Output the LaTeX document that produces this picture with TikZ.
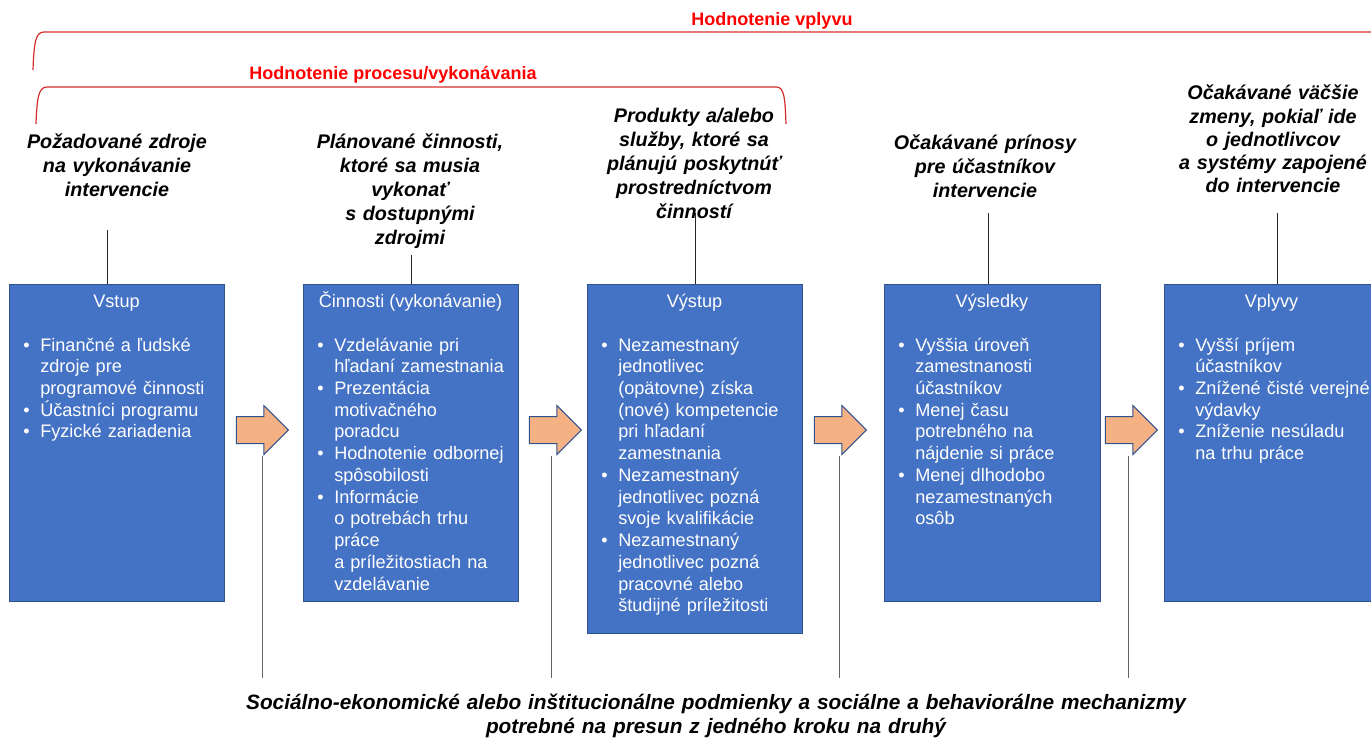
\documentclass[tikz,border=0pt]{standalone}
\usepackage{fontspec}
\setmainfont{Liberation Sans}
\usepackage{tikz}
\usetikzlibrary{shapes.arrows, positioning}
\definecolor{modra}{HTML}{4472C4}
\definecolor{okraj}{HTML}{2F528F}
\definecolor{oranz}{HTML}{F4B183}
\definecolor{cervena}{HTML}{FF0000}
\definecolor{zatvorka}{HTML}{D42C2C}
\tikzstyle{blok} = [rectangle, draw=okraj, fill=modra, line width=0.75pt, minimum width=161.25pt, minimum height=237.75pt, anchor=north west, inner sep=0pt]
\tikzstyle{nadpis} = [text=white, font=\fontsize{13.6}{16.3}\selectfont, anchor=base, inner sep=0pt]
\tikzstyle{zoznam} = [text=white, font=\fontsize{13.6}{16.3}\selectfont, text width=190pt, anchor=base west, inner sep=0pt]
\tikzstyle{popis} = [font=\fontsize{14.8}{18}\selectfont\bfseries\itshape, text width=157pt, align=center, anchor=base, inner sep=0pt]
\tikzstyle{sipka} = [single arrow, draw=okraj, fill=oranz, line width=0.75pt, minimum height=39pt, single arrow head extend=8.25pt, inner xsep=0pt, inner ysep=9.75pt, anchor=tip]
\tikzstyle{hodnotenie} = [text=cervena, font=\fontsize{13.5}{16}\selectfont\bfseries, anchor=base, inner sep=0pt]
\tikzstyle{zatv} = [draw=zatvorka, line width=0.9pt]
\tikzstyle{linka} = [line width=0.75pt, black!85]
\tikzstyle{siva} = [line width=0.75pt, black!60]

\newcommand{\bod}[1]{\hangindent=12.75pt\hangafter=1\makebox[12.75pt][l]{\textbullet}#1\par}

\begin{document}
\begin{tikzpicture}[x=0.75pt,y=-0.75pt]
\clip (0,0) rectangle (1371,738);

% hodnotenie
\node[hodnotenie] (vplyv) at (772,26) {Hodnotenie vplyvu};
\node[hodnotenie] (proces) at (393,80) {Hodnotenie procesu/vykonávania};
\draw[zatv] (33,70) .. controls (34,41) and (36,32) .. (44,32) -- (1375,32);
\draw[zatv] (36,124) .. controls (37,96) and (39,87) .. (47,87) -- (776,87) .. controls (784,87) and (785,96) .. (786,124);

% bloky
\node[blok] (vstup) at (9,284) {};
\node[blok] (cinnosti) at (303,284) {};
\node[blok, minimum height=261.75pt] (vystup) at (587,284) {};
\node[blok, minimum width=162pt] (vysledky) at (884,284) {};
\node[blok] (vplyvy) at (1164,284) {};

\node[nadpis] (vstup-n) at (116.5,307) {Vstup};
\node[nadpis] (cinnosti-n) at (410.5,307) {Činnosti (vykonávanie)};
\node[nadpis] (vystup-n) at (694.5,307) {Výstup};
\node[nadpis] (vysledky-n) at (992,307) {Výsledky};
\node[nadpis] (vplyvy-n) at (1271.5,307) {Vplyvy};

\node[zoznam] (vstup-z) at (23,351) {%
\bod{Finančné a ľudské\newline zdroje pre\newline programové činnosti}
\bod{Účastníci programu}
\bod{Fyzické zariadenia}};
\node[zoznam] (cinnosti-z) at (317,351) {%
\bod{Vzdelávanie pri\newline hľadaní zamestnania}
\bod{Prezentácia\newline motivačného\newline poradcu}
\bod{Hodnotenie odbornej\newline spôsobilosti}
\bod{Informácie\newline o potrebách trhu\newline práce\newline a príležitostiach na\newline vzdelávanie}};
\node[zoznam] (vystup-z) at (601,351) {%
\bod{Nezamestnaný\newline jednotlivec\newline (opätovne) získa\newline (nové) kompetencie\newline pri hľadaní\newline zamestnania}
\bod{Nezamestnaný\newline jednotlivec pozná\newline svoje kvalifikácie}
\bod{Nezamestnaný\newline jednotlivec pozná\newline pracovné alebo\newline študijné príležitosti}};
\node[zoznam] (vysledky-z) at (898,351) {%
\bod{Vyššia úroveň\newline zamestnanosti\newline účastníkov}
\bod{Menej času\newline potrebného na\newline nájdenie si práce}
\bod{Menej dlhodobo\newline nezamestnaných\newline osôb}};
\node[zoznam] (vplyvy-z) at (1178,351) {%
\bod{Vyšší príjem\newline účastníkov}
\bod{Znížené čisté verejné\newline výdavky}
\bod{Zníženie nesúladu\newline na trhu práce}};

% popisy nad blokmi
\node[popis] (vstup-p) at (117,149) {Požadované zdroje\\ na vykonávanie\\ intervencie};
\node[popis] (cinnosti-p) at (410,149) {Plánované činnosti,\\ ktoré sa musia\\ vykonať\\ s dostupnými\\ zdrojmi};
\node[popis] (vystup-p) at (694,123) {Produkty a/alebo\\ služby, ktoré sa\\ plánujú poskytnúť\\ prostredníctvom\\ činností};
\node[popis] (vysledky-p) at (985,150) {Očakávané prínosy\\ pre účastníkov\\ intervencie};
\node[popis, font=\fontsize{14.8}{17.4}\selectfont\bfseries\itshape] (vplyvy-p) at (1273,100) {Očakávané väčšie\\ zmeny, pokiaľ ide\\ o jednotlivcov\\ a systémy zapojené\\ do intervencie};

\draw[linka] ([xshift=-7.1pt]vstup.north) -- ++(0,-54);
\draw[linka] (cinnosti.north) -- ++(0,-29);
\draw[linka] (vystup.north) -- ++(0,-71);
\draw[linka] ([xshift=-3pt]vysledky.north) -- ++(0,-71);
\draw[linka] ([xshift=4pt]vplyvy.north) -- ++(0,-71);

% sipky
\node[sipka] (sipka1) at (289,430) {};
\node[sipka] (sipka2) at (582,430) {};
\node[sipka] (sipka3) at (867,430) {};
\node[sipka] (sipka4) at (1158,430) {};

% podmienky
\node[popis, font=\fontsize{15.6}{18}\selectfont\bfseries\itshape, text width=780pt] (podmienky) at (716,709) {Sociálno-ekonomické alebo inštitucionálne podmienky a sociálne a behaviorálne mechanizmy\\ potrebné na presun z jedného kroku na druhý};

\coordinate (a1) at (262,456);
\coordinate (b1) at (262,678);
\coordinate (a2) at (551,456);
\coordinate (b2) at (551,678);
\coordinate (a3) at (839,456);
\coordinate (b3) at (839,678);
\coordinate (a4) at (1128,456);
\coordinate (b4) at (1128,678);
\draw[siva] (a1) -- (b1);
\draw[siva] (a2) -- (b2);
\draw[siva] (a3) -- (b3);
\draw[siva] (a4) -- (b4);
\end{tikzpicture}
\end{document}
